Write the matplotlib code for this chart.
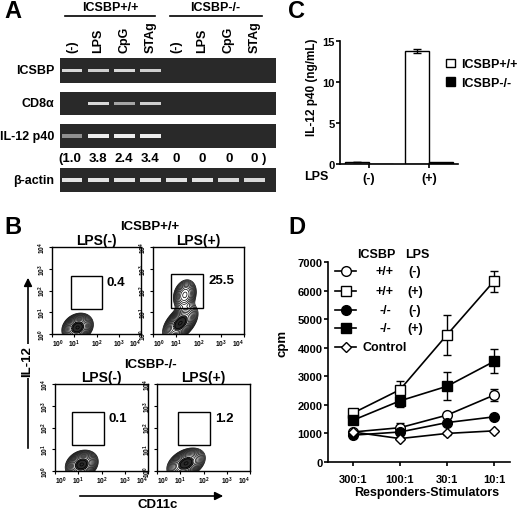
import numpy as np
import matplotlib.pyplot as plt
from matplotlib.patches import Rectangle, FancyArrowPatch
from matplotlib.lines import Line2D

plt.rcParams['font.family'] = ['Liberation Sans', 'DejaVu Sans']
plt.rcParams['font.weight'] = 'bold'
plt.rcParams['mathtext.fontset'] = 'custom'
plt.rcParams['mathtext.rm'] = 'Liberation Sans:bold'
plt.rcParams['mathtext.bf'] = 'Liberation Sans:bold'

W, H = 520, 510

# --- A: RT-PCR gel
lanes = ['(-)', 'LPS', 'CpG', 'STAg', '(-)', 'LPS', 'CpG', 'STAg']
gel_rows = ['ICSBP', 'CD8α', 'IL-12 p40', 'β-actin']
band_icsbp = [0.85, 0.8, 0.85, 0.8, 0, 0, 0, 0]
band_cd8 = [0, 0.85, 0.6, 0.8, 0, 0, 0, 0]
band_il12 = [0.5, 0.95, 0.95, 0.95, 0, 0, 0, 0]
band_actin = [0.9, 0.9, 0.9, 0.9, 0.9, 0.9, 0.85, 0.85]
il12_ratio = ['(1.0', '3.8', '2.4', '3.4', '0', '0', '0', '0 )']

# --- C: ELISA
c_groups = ['(-)', '(+)']
c_wt = [0.3, 13.8]
c_wt_err = [0.0, 0.25]
c_ko = [0.05, 0.25]

# --- B: flow cytometry (log10 units)
b_titles = ['LPS(-)', 'LPS(+)', 'LPS(-)', 'LPS(+)']
b_pct = ['0.4', '25.5', '0.1', '1.2']
b_gates = [(0.85, 1.15, 2.25, 2.65), (0.8, 1.2, 2.2, 2.75),
           (0.75, 1.2, 2.1, 2.7), (0.9, 1.2, 2.3, 2.7)]
# populations: centre x, centre y, sd x, sd y, correlation, weight
b_pops = [
    [(1.15, 0.3, 0.3, 0.28, 0.2, 1.0)],
    [(1.2, 0.5, 0.33, 0.36, 0.5, 1.0), (1.4, 1.8, 0.24, 0.33, 0.2, 0.55)],
    [(1.15, 0.3, 0.3, 0.28, 0.2, 1.0)],
    [(1.25, 0.35, 0.35, 0.3, 0.35, 1.0)],
]

# --- D: MLR
d_ratios = ['300:1', '100:1', '30:1', '10:1']
d_wt_neg = [1050, 1200, 1640, 2340]
d_wt_neg_err = [80, 150, 60, 200]
d_wt_pos = [1710, 2530, 4450, 6330]
d_wt_pos_err = [100, 300, 700, 370]
d_ko_neg = [940, 1050, 1380, 1580]
d_ko_neg_err = [50, 60, 60, 60]
d_ko_pos = [1460, 2140, 2650, 3520]
d_ko_pos_err = [80, 200, 490, 420]
d_ctrl = [1050, 820, 1000, 1090]
d_ctrl_err = [40, 40, 40, 40]


def box(x0, y0, x1, y1):
    return [x0 / W, 1 - y1 / H, (x1 - x0) / W, (y1 - y0) / H]


def ftxt(x, y, s, **kw):
    fig.text(x / W, 1 - y / H, s, **kw)


fig = plt.figure(figsize=(5.2, 5.1), dpi=100)

for lab, x, y in [('A', 4, 12), ('C', 288, 12), ('B', 4, 228), ('D', 288, 228)]:
    ftxt(x, y, lab, fontsize=17, va='center', ha='left')

# ---------------- A
row_box = [(59, 84), (93, 116), (125, 149), (169, 193)]
bands = [band_icsbp, band_cd8, band_il12, band_actin]
dark = np.array([0.16, 0.16, 0.16])
light = np.array([0.97, 0.97, 0.97])
gel_axes = []
for name, (y0, y1), vals in zip(gel_rows, row_box, bands):
    ax = fig.add_axes(box(60, y0, 276, y1))
    ax.set_facecolor(dark)
    ax.set_xlim(-0.46, 7.81)
    ax.set_ylim(0, 1)
    cols = [tuple(dark + v * (light - dark)) for v in vals]
    ax.bar(range(8), 0.14, bottom=0.43, width=0.8, color=cols)
    ax.set_xticks([])
    ax.set_yticks([])
    for s in ax.spines.values():
        s.set_visible(False)
    ax.text(-0.025, 0.5, name, transform=ax.transAxes, ha='right', va='center',
            fontsize=9)
    gel_axes.append(ax)

ax = gel_axes[0]
tr = ax.get_xaxis_transform()
for i, l in enumerate(lanes):
    ax.text(i, 1.24, l, transform=tr, rotation=90, ha='center', va='bottom',
            fontsize=9)
ax.plot([-0.27, 3.18], [2.68, 2.68], color='black', lw=1.2, transform=tr, clip_on=False)
ax.plot([3.75, 7.28], [2.68, 2.68], color='black', lw=1.2, transform=tr, clip_on=False)
ax.text(1.46, 3.04, 'ICSBP+/+', transform=tr, ha='center', va='center', fontsize=9)
ax.text(5.5, 3.04, 'ICSBP-/-', transform=tr, ha='center', va='center', fontsize=9)

ax = gel_axes[2]
tr = ax.get_xaxis_transform()
for i, r in enumerate(il12_ratio):
    dx = -0.1 if r.startswith('(') else (0.15 if r.endswith(')') else 0)
    ax.text(i + dx, -0.42, r, transform=tr, ha='center', va='center', fontsize=9.5)

# ---------------- C
ax = fig.add_axes(box(340, 42, 458, 165))
xc = np.arange(len(c_groups))
ax.bar(xc - 0.2, c_wt, 0.4, color='white', edgecolor='black', lw=1,
       label='ICSBP+/+')
ax.errorbar(xc - 0.2, c_wt, yerr=c_wt_err, fmt='none', ecolor='black',
            capsize=3, lw=1)
ax.bar(xc + 0.2, c_ko, 0.4, color='black', edgecolor='black', lw=1,
       label='ICSBP-/-')
ax.set_xlim(-0.483, 1.483)
ax.set_ylim(0, 15)
ax.set_yticks([0, 5, 10, 15])
ax.set_xticks(xc)
ax.set_xticklabels(c_groups, fontsize=9)
ax.tick_params(axis='y', labelsize=8, length=3, width=1.2, pad=1)
ax.tick_params(axis='x', length=3, width=1.2, pad=3)
for s in ['top', 'right']:
    ax.spines[s].set_visible(False)
for s in ['left', 'bottom']:
    ax.spines[s].set_linewidth(1.2)
ax.text(-0.2, -0.1, 'LPS', transform=ax.transAxes, ha='center', va='center',
        fontsize=9)
ax.text(-0.24, 0.63, 'IL-12 p40 (ng/mL)', transform=ax.transAxes, rotation=90,
        ha='center', va='center', fontsize=8.5)
ax.legend(loc='upper left', bbox_to_anchor=(0.86, 0.9), frameon=False,
          fontsize=9, handlelength=0.7, handleheight=0.7, handletextpad=0.5,
          labelspacing=0.55, borderaxespad=0)

# ---------------- B
flow_box = [(52, 248, 141, 335), (153, 248, 244, 335),
            (55, 385, 148, 472), (157, 385, 250, 472)]
gx = np.linspace(0, 4, 220)
GX, GY = np.meshgrid(gx, gx)
for k in range(4):
    ax = fig.add_axes(box(*flow_box[k]))
    Z = np.zeros_like(GX)
    for cx, cy, sx, sy, rho, w in b_pops[k]:
        u = (GX - cx) / sx
        v = (GY - cy) / sy
        Z += w * np.exp(-(u * u - 2 * rho * u * v + v * v) / (2 * (1 - rho ** 2)))
    levels = Z.max() * np.geomspace(0.06, 0.97, 14)
    ax.contour(GX, GY, Z, levels=levels, colors='black', linewidths=0.5)
    ax.contourf(GX, GY, Z, levels=[0.7 * Z.max(), Z.max() * 1.01],
                colors=['#2a2a2a'])
    g = b_gates[k]
    ax.add_patch(Rectangle((g[0], g[1]), g[2] - g[0], g[3] - g[1], fill=False,
                           lw=1, color='black'))
    ax.text(g[2] + 0.22, g[3] - 0.25, b_pct[k], ha='left', va='center',
            fontsize=9.5)
    ax.set_xlim(0, 4)
    ax.set_ylim(0, 4)
    ticks = range(5)
    tl = [r'$\mathbf{10^{%d}}$' % t for t in ticks]
    ax.set_xticks(list(ticks))
    xl = ax.set_xticklabels(tl, fontsize=4.8)
    xl[0].set_ha('left')
    xl[-1].set_ha('right')
    ax.set_yticks(list(ticks))
    ax.set_yticklabels(tl, fontsize=4.8, rotation=90, va='center')
    ax.tick_params(length=2, width=0.8, pad=1)
    for s in ax.spines.values():
        s.set_linewidth(1)
    ax.set_title(b_titles[k], fontsize=10, pad=1, fontweight='bold')

ftxt(150, 227, 'ICSBP+/+', ha='center', va='center', fontsize=9.5)
ftxt(150, 365, 'ICSBP-/-', ha='center', va='center', fontsize=9.5)
fig.add_artist(FancyArrowPatch((28 / W, 1 - 452 / H), (28 / W, 1 - 276 / H),
                               transform=fig.transFigure, arrowstyle='-|>',
                               mutation_scale=12, lw=1.2, color='black'))
ftxt(27, 362, 'IL-12', rotation=90, ha='center', va='center', fontsize=9.5,
     bbox=dict(facecolor='white', edgecolor='none', pad=1))
fig.add_artist(FancyArrowPatch((77 / W, 1 - 497 / H), (226 / W, 1 - 497 / H),
                               transform=fig.transFigure, arrowstyle='-|>',
                               mutation_scale=12, lw=1.2, color='black'))
ftxt(158, 505, 'CD11c', ha='center', va='center', fontsize=9.5)

# ---------------- D
ax = fig.add_axes(box(328, 263, 510, 463))
xd = np.arange(len(d_ratios))
series = [
    (d_wt_neg, d_wt_neg_err, 'o', 'white', 7, '+/+', '(-)'),
    (d_wt_pos, d_wt_pos_err, 's', 'white', 7, '+/+', '(+)'),
    (d_ko_neg, d_ko_neg_err, 'o', 'black', 7, '-/-', '(-)'),
    (d_ko_pos, d_ko_pos_err, 's', 'black', 7, '-/-', '(+)'),
    (d_ctrl, d_ctrl_err, 'D', 'white', 5, 'Control', ''),
]
for vals, err, m, fc, ms, g, lps in series:
    ax.errorbar(xd, vals, yerr=err, color='black', lw=1.2, capsize=3,
                elinewidth=1, marker=m, mfc=fc, mec='black', ms=ms, mew=1)
ax.set_xlim(-0.53, 3.34)
ax.set_ylim(0, 7000)
ax.set_yticks(range(0, 7001, 1000))
ax.set_xticks(xd)
ax.set_xticklabels(d_ratios, fontsize=8)
ax.tick_params(axis='y', labelsize=8, length=3, width=1.2, pad=1)
ax.tick_params(axis='x', length=3, width=1.2, pad=6)
for s in ['top', 'right']:
    ax.spines[s].set_visible(False)
for s in ['left', 'bottom']:
    ax.spines[s].set_linewidth(1.2)
ax.text(0.54, -0.15, 'Responders-Stimulators', transform=ax.transAxes,
        ha='center', va='center', fontsize=9)
ax.text(-0.25, 0.6, 'cpm', transform=ax.transAxes, rotation=90,
        ha='center', va='center', fontsize=9.5)

# legend table
ax.text(0.264, 1.04, 'ICSBP', transform=ax.transAxes, ha='center', va='center', fontsize=9)
ax.text(0.49, 1.04, 'LPS', transform=ax.transAxes, ha='center', va='center', fontsize=9)
rows_y = [0.955, 0.855, 0.76, 0.67, 0.575]
for (vals, err, m, fc, ms, g, lps), ry in zip(series, rows_y):
    ax.add_line(Line2D([0.04, 0.154], [ry, ry], transform=ax.transAxes,
                       color='black', lw=1.2, clip_on=False))
    ax.add_line(Line2D([0.097], [ry], transform=ax.transAxes, marker=m, mfc=fc,
                       mec='black', ms=ms, mew=1, clip_on=False))
    if g == 'Control':
        ax.text(0.187, ry, g, transform=ax.transAxes, ha='left', va='center',
                fontsize=9)
    else:
        ax.text(0.313, ry, g, transform=ax.transAxes, ha='center', va='center',
                fontsize=9)
        ax.text(0.478, ry, lps, transform=ax.transAxes, ha='center', va='center',
                fontsize=9)

fig.savefig('out.png', dpi=100)
